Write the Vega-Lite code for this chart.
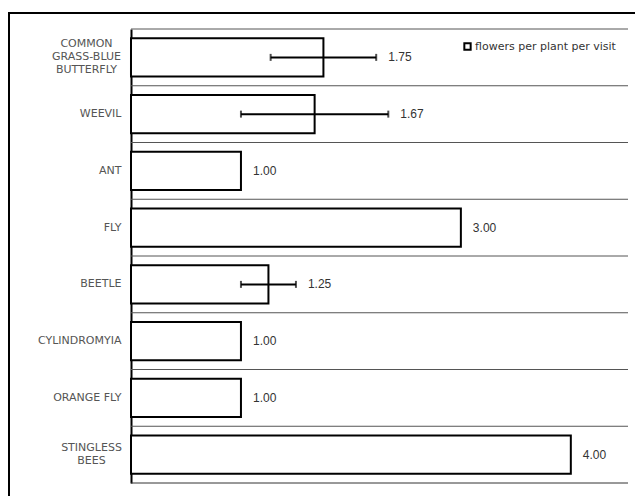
{
  "$schema": "https://vega.github.io/schema/vega-lite/v6.json",
  "width": 632,
  "height": 490,
  "autosize": "none",
  "padding": {"left": 9, "top": 13, "right": 0, "bottom": 0},
  "background": "white",
  "config": {"view": {"stroke": "black", "strokeWidth": 2}},
  "data": {
    "values": [
      {"visitor": "COMMON|GRASS-BLUE|BUTTERFLY", "value": 1.75, "lo": 1.27, "hi": 2.23},
      {"visitor": "WEEVIL", "value": 1.67, "lo": 1.0, "hi": 2.34},
      {"visitor": "ANT", "value": 1.0, "lo": 1.0, "hi": 1.0},
      {"visitor": "FLY", "value": 3.0, "lo": 3.0, "hi": 3.0},
      {"visitor": "BEETLE", "value": 1.25, "lo": 1.0, "hi": 1.5},
      {"visitor": "CYLINDROMYIA", "value": 1.0, "lo": 1.0, "hi": 1.0},
      {"visitor": "ORANGE FLY", "value": 1.0, "lo": 1.0, "hi": 1.0},
      {"visitor": "STINGLESS|BEES", "value": 4.0, "lo": 4.0, "hi": 4.0}
    ]
  },
  "layer": [
    {
      "mark": {"type": "bar", "fill": "white", "strokeWidth": 2, "height": {"band": 0.67}},
      "encoding": {
        "y": {
          "field": "visitor",
          "type": "nominal",
          "sort": null,
          "scale": {"range": [16, 470], "paddingInner": 0, "paddingOuter": 0},
          "axis": {
            "title": null,
            "orient": "left",
            "offset": -122,
            "ticks": false,
            "domainColor": "black",
            "domainWidth": 2,
            "labelExpr": "split(datum.label, '|')",
            "labelFont": "DejaVu Sans",
            "labelFontSize": 11,
            "labelColor": "#555555",
            "labelLineHeight": 13,
            "labelBaseline": "middle",
            "labelAlign": {
              "condition": {"test": "indexof(datum.value, '|') >= 0", "value": "center"},
              "value": "right"
            },
            "labelPadding": {
              "condition": [
                {"test": "datum.value == 'STINGLESS|BEES'", "value": 40},
                {"test": "indexof(datum.value, '|') >= 0", "value": 45}
              ],
              "value": 10
            },
            "labelOffset": {
              "condition": [
                {"test": "datum.value == 'STINGLESS|BEES'", "value": -6.5},
                {"test": "indexof(datum.value, '|') >= 0", "value": -13}
              ],
              "value": 0
            }
          }
        },
        "x": {
          "field": "value",
          "type": "quantitative",
          "scale": {"domain": [0, 4.52], "range": [122, 619], "nice": false, "zero": true},
          "axis": null
        },
        "stroke": {
          "datum": "flowers per plant per visit",
          "type": "nominal",
          "scale": {"range": ["black"]},
          "legend": {
            "title": null,
            "orient": "none",
            "legendX": 453,
            "legendY": 28,
            "symbolType": "square",
            "symbolFillColor": "white",
            "symbolStrokeColor": "black",
            "symbolStrokeWidth": 2,
            "symbolSize": 40,
            "labelFont": "DejaVu Sans",
            "labelFontSize": 11,
            "labelColor": "#333333",
            "labelOffset": 2
          }
        }
      }
    },
    {
      "mark": {"type": "rule", "color": "#555555", "strokeWidth": 1},
      "encoding": {
        "y": {"field": "visitor", "type": "nominal", "sort": null, "bandPosition": 0},
        "x": {"datum": 0, "type": "quantitative"},
        "x2": {"datum": 4.52}
      }
    },
    {
      "transform": [{"filter": "datum.visitor == 'STINGLESS|BEES'"}],
      "mark": {"type": "rule", "color": "#333333", "strokeWidth": 1},
      "encoding": {
        "y": {"field": "visitor", "type": "nominal", "sort": null, "bandPosition": 1},
        "x": {"datum": 0, "type": "quantitative"},
        "x2": {"datum": 4.52}
      }
    },
    {
      "transform": [{"filter": "datum.hi > datum.value"}],
      "mark": {"type": "rule", "color": "black", "strokeWidth": 2},
      "encoding": {
        "y": {"field": "visitor", "type": "nominal", "sort": null},
        "x": {"field": "lo", "type": "quantitative"},
        "x2": {"field": "hi"}
      }
    },
    {
      "transform": [{"filter": "datum.hi > datum.value"}],
      "mark": {"type": "tick", "color": "black", "size": 7, "thickness": 2},
      "encoding": {
        "y": {"field": "visitor", "type": "nominal", "sort": null},
        "x": {"field": "lo", "type": "quantitative"}
      }
    },
    {
      "transform": [{"filter": "datum.hi > datum.value"}],
      "mark": {"type": "tick", "color": "black", "size": 7, "thickness": 2},
      "encoding": {
        "y": {"field": "visitor", "type": "nominal", "sort": null},
        "x": {"field": "hi", "type": "quantitative"}
      }
    },
    {
      "mark": {"type": "text", "align": "left", "baseline": "middle", "dx": 12, "font": "Liberation Sans", "fontSize": 12, "color": "#333333"},
      "encoding": {
        "y": {"field": "visitor", "type": "nominal", "sort": null},
        "x": {"field": "hi", "type": "quantitative"},
        "text": {"field": "value", "type": "quantitative", "format": ".2f"}
      }
    }
  ]
}
